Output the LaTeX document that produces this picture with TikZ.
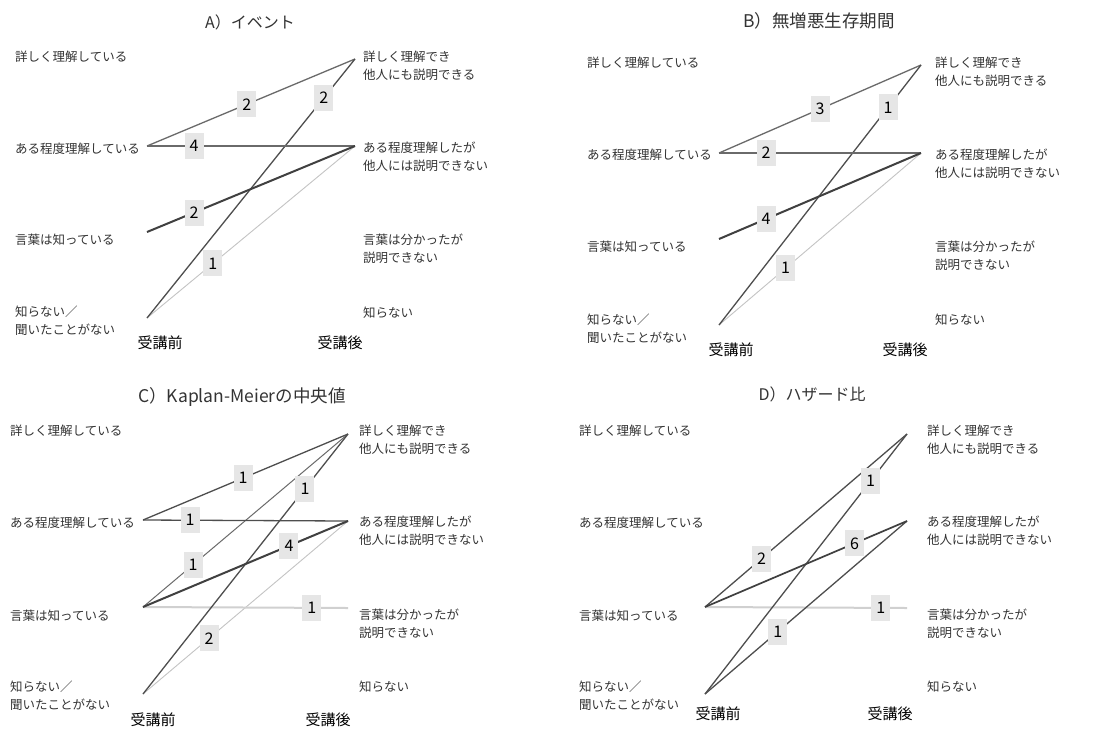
\documentclass[tikz,border=0pt]{standalone}
\usepackage{fontspec}
\setmainfont{Noto Sans CJK JP}
\definecolor{txtgray}{HTML}{333333}
\definecolor{boxgray}{HTML}{E6E6E6}
\definecolor{lnmid}{HTML}{6A6A6A}
\definecolor{lndark}{HTML}{4E4E4E}
\definecolor{lnthick}{HTML}{404040}
\definecolor{lnlight}{HTML}{C4C4C4}
\definecolor{lnlightb}{HTML}{D0D0D0}
\tikzset{
  lbl/.style={anchor=west, text=txtgray, font=\fontsize{12.5}{18}\selectfont, inner sep=0pt, align=left},
  num/.style={fill=boxgray, text=black, font=\fontsize{16}{16}\selectfont, minimum width=19pt, minimum height=26pt, inner sep=0pt},
  ttl/.style={font=\fontsize{16}{18}\selectfont, text=txtgray, inner sep=0pt},
  ttlbig/.style={font=\fontsize{17.5}{18}\selectfont, text=txtgray, inner sep=0pt},
  axl/.style={font=\fontsize{15}{18}\selectfont, text=black, inner sep=0pt},
  lnA/.style={draw=lnmid, line width=1.3pt},
  lnA3/.style={draw=lnmid, line width=1.6pt},
  lnAthin/.style={draw=lnmid, line width=1.0pt},
  lnB/.style={draw=lndark, line width=1.3pt},
  lnT/.style={draw=lnthick, line width=2pt},
  lnT6/.style={draw=lnthick, line width=1.7pt},
  lnL/.style={draw=lnlight, line width=0.9pt},
  lnLT/.style={draw=lnlightb, line width=2pt},
}
\begin{document}
\begin{tikzpicture}[x=1pt, y=-1pt]
\useasboundingbox[fill=white] (0,0) rectangle (1105,729);

%% ---------------- Panel A ----------------
\begin{scope}[shift={(0,0)}]
  \node[ttl] (A-t) at (250,22) {A）イベント};
  \node[lbl] (A-l4) at (15,57) {詳しく理解している};
  \node[lbl] (A-l3) at (15,149) {ある程度理解している};
  \node[lbl] (A-l2) at (15,240) {言葉は知っている};
  \node[lbl] (A-l1) at (15,321) {知らない／\\聞いたことがない};
  \node[lbl] (A-r4) at (363,66) {詳しく理解でき\\他人にも説明できる};
  \node[lbl] (A-r3) at (363,157) {ある程度理解したが\\他人には説明できない};
  \node[lbl] (A-r2) at (363,249) {言葉は分かったが\\説明できない};
  \node[lbl] (A-r1) at (363,313) {知らない};
  \node[axl] (A-pre) at (160,343) {受講前};
  \node[axl] (A-post) at (340,343) {受講後};
  \coordinate (A-L3) at (147,146);
  \coordinate (A-L2) at (147,232);
  \coordinate (A-L1) at (147,318);
  \coordinate (A-R4) at (355,59);
  \coordinate (A-R3) at (355,146);
  \draw[lnL] (A-L1) -- (A-R3);
  \draw[lnA] (A-L3) -- (A-R4);
  \draw[lnB] (A-L1) -- (A-R4);
  \draw[lnA3] (A-L3) -- (A-R3);
  \draw[lnT] (A-L2) -- (A-R3);
  \path (A-L3) -- node[num,pos=0.48] (A-n1) {2} (A-R4);
  \path (A-L1) -- node[num,pos=0.85] (A-n2) {2} (A-R4);
  \path (A-L3) -- node[num,pos=0.226] (A-n3) {4} (A-R3);
  \path (A-L2) -- node[num,pos=0.226] (A-n4) {2} (A-R3);
  \path (A-L1) -- node[num,pos=0.317] (A-n5) {1} (A-R3);
\end{scope}

%% ---------------- Panel B ----------------
\begin{scope}[shift={(552,0)}]
  \node[ttlbig] (B-t) at (267,21) {B）無増悪生存期間};
  \node[lbl] (B-l4) at (35,63) {詳しく理解している};
  \node[lbl] (B-l3) at (35,155) {ある程度理解している};
  \node[lbl] (B-l2) at (35,247) {言葉は知っている};
  \node[lbl] (B-l1) at (35,329) {知らない／\\聞いたことがない};
  \node[lbl] (B-r4) at (383,72) {詳しく理解でき\\他人にも説明できる};
  \node[lbl] (B-r3) at (383,164) {ある程度理解したが\\他人には説明できない};
  \node[lbl] (B-r2) at (383,256) {言葉は分かったが\\説明できない};
  \node[lbl] (B-r1) at (383,320) {知らない};
  \node[axl] (B-pre) at (179,350) {受講前};
  \node[axl] (B-post) at (353,350) {受講後};
  \coordinate (B-L3) at (167,153);
  \coordinate (B-L2) at (167,239);
  \coordinate (B-L1) at (167,325);
  \coordinate (B-R4) at (369,65);
  \coordinate (B-R3) at (369,153);
  \draw[lnL] (B-L1) -- (B-R3);
  \draw[lnA] (B-L3) -- (B-R4);
  \draw[lnB] (B-L1) -- (B-R4);
  \draw[lnA3] (B-L3) -- (B-R3);
  \draw[lnT] (B-L2) -- (B-R3);
  \path (B-L3) -- node[num,pos=0.5] (B-n1) {3} (B-R4);
  \path (B-L1) -- node[num,pos=0.837] (B-n2) {1} (B-R4);
  \path (B-L3) -- node[num,pos=0.233] (B-n3) {2} (B-R3);
  \path (B-L2) -- node[num,pos=0.233] (B-n4) {4} (B-R3);
  \path (B-L1) -- node[num,pos=0.33] (B-n5) {1} (B-R3);
\end{scope}

%% ---------------- Panel C ----------------
\begin{scope}[shift={(0,364)}]
  \node[ttlbig] (C-t) at (242,33) {C）Kaplan-Meierの中央値};
  \node[lbl] (C-l4) at (10,67) {詳しく理解している};
  \node[lbl] (C-l3) at (10,159) {ある程度理解している};
  \node[lbl] (C-l2) at (10,252) {言葉は知っている};
  \node[lbl] (C-l1) at (10,332) {知らない／\\聞いたことがない};
  \node[lbl] (C-r4) at (359,76) {詳しく理解でき\\他人にも説明できる};
  \node[lbl] (C-r3) at (359,167) {ある程度理解したが\\他人には説明できない};
  \node[lbl] (C-r2) at (359,260) {言葉は分かったが\\説明できない};
  \node[lbl] (C-r1) at (359,323) {知らない};
  \node[axl] (C-pre) at (153,356) {受講前};
  \node[axl] (C-post) at (328,356) {受講後};
  \coordinate (C-L3) at (143,156);
  \coordinate (C-L2) at (143,243);
  \coordinate (C-L1) at (143,330);
  \coordinate (C-R4) at (348,70);
  \coordinate (C-R3) at (348,157);
  \coordinate (C-R2) at (348,244);
  \draw[lnL] (C-L1) -- (C-R3);
  \draw[lnLT] (C-L2) -- (C-R2);
  \draw[lnAthin] (C-L2) -- (C-R4);
  \draw[lnB] (C-L3) -- (C-R4);
  \draw[lnB] (C-L1) -- (C-R4);
  \draw[lnB] (C-L3) -- (C-R3);
  \draw[lnT] (C-L2) -- (C-R3);
  \path (C-L3) -- node[num,pos=0.488] (C-n1) {1} (C-R4);
  \path (C-L1) -- node[num,pos=0.79] (C-n2) {1} (C-R4);
  \path (C-L3) -- node[num,pos=0.23] (C-n3) {1} (C-R3);
  \path (C-L2) -- node[num,pos=0.244] (C-n4) {1} (C-R4);
  \path (C-L2) -- node[num,pos=0.712] (C-n5) {4} (C-R3);
  \path (C-L2) -- node[num,pos=0.824] (C-n6) {1} (C-R2);
  \path (C-L1) -- node[num,pos=0.322] (C-n7) {2} (C-R3);
\end{scope}

%% ---------------- Panel D ----------------
\begin{scope}[shift={(552,364)}]
  \node[ttl] (D-t) at (260,30) {D）ハザード比};
  \node[lbl] (D-l4) at (27,67) {詳しく理解している};
  \node[lbl] (D-l3) at (27,159) {ある程度理解している};
  \node[lbl] (D-l2) at (27,252) {言葉は知っている};
  \node[lbl] (D-l1) at (27,332) {知らない／\\聞いたことがない};
  \node[lbl] (D-r4) at (375,76) {詳しく理解でき\\他人にも説明できる};
  \node[lbl] (D-r3) at (375,167) {ある程度理解したが\\他人には説明できない};
  \node[lbl] (D-r2) at (375,260) {言葉は分かったが\\説明できない};
  \node[lbl] (D-r1) at (375,323) {知らない};
  \node[axl] (D-pre) at (166,350) {受講前};
  \node[axl] (D-post) at (338,350) {受講後};
  \coordinate (D-L2) at (153,243);
  \coordinate (D-L1) at (153,330);
  \coordinate (D-R4) at (355,70);
  \coordinate (D-R3) at (355,157);
  \coordinate (D-R2) at (355,244);
  \draw[lnLT] (D-L2) -- (D-R2);
  \draw[lnB] (D-L2) -- (D-R4);
  \draw[lnB] (D-L1) -- (D-R4);
  \draw[lnB] (D-L1) -- (D-R3);
  \draw[lnT6] (D-L2) -- (D-R3);
  \path (D-L2) -- node[num,pos=0.28] (D-n1) {2} (D-R4);
  \path (D-L1) -- node[num,pos=0.82] (D-n2) {1} (D-R4);
  \path (D-L2) -- node[num,pos=0.74] (D-n3) {6} (D-R3);
  \path (D-L2) -- node[num,pos=0.87] (D-n4) {1} (D-R2);
  \path (D-L1) -- node[num,pos=0.36] (D-n5) {1} (D-R3);
\end{scope}
\end{tikzpicture}
\end{document}
